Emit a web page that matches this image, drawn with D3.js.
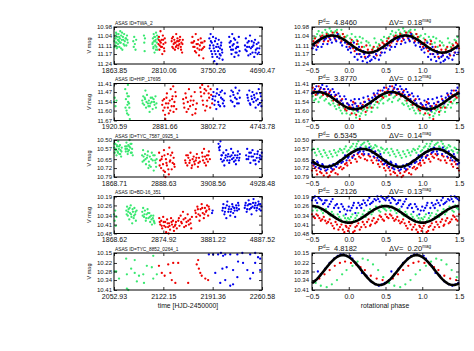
<!DOCTYPE html>
<html>
<head>
<meta charset="utf-8">
<script src="https://cdn.jsdelivr.net/npm/d3@7"></script>
<style>
  body { margin: 0; background: #fff; }
  svg text { font-family: "Liberation Sans", Arial, sans-serif; fill: #111; }
</style>
</head>
<body>
<svg id="chart" width="474" height="351"></svg>
<script>
// star ids, tick labels and fit results
const starIds = ["TWA_2", "HIP_17695", "TYC_7587_0925_1", "BD-16_351", "TYC_8852_0264_1"];
const timeTicks = [
  [1863.85, 2810.06, 3750.26, 4690.47],
  [1920.59, 2881.66, 3802.72, 4743.78],
  [1868.71, 2888.63, 3908.56, 4928.48],
  [1868.62, 2874.92, 3881.22, 4887.52],
  [2052.93, 2122.15, 2191.36, 2260.58]
];
const magTicks = [
  [10.98, 11.04, 11.11, 11.17, 11.24],
  [11.41, 11.47, 11.54, 11.60, 11.67],
  [10.50, 10.57, 10.65, 10.72, 10.79],
  [10.19, 10.26, 10.34, 10.41, 10.48],
  [10.15, 10.22, 10.28, 10.34, 10.41]
];
const periods = ["4.8460", "3.8770", "6.5345", "3.2126", "4.8182"];
const deltaV = ["0.18", "0.12", "0.14", "0.13", "0.20"];
// sine fit: mean mag, semi-amplitude, phase of maximum brightness
const fitMean = [11.10, 11.53, 10.64, 10.33, 10.27];
const fitAmp = [0.06, 0.06, 0.07, 0.065, 0.105];
const fitPhaseMax = [0.77, 0.58, 0.19, 0.5, 0.92];

// ---- TWA_2 ----
const twaTimeG = [[1872,11.08],[1880,11.04],[1889,11.11],[1895,11.06],[1903,11.02],[1910,11.09],[1918,11.13],[1925,11.05],[1934,11.07],[1941,11.10],[1950,11.03],[1958,11.08],[1966,11.12],[1975,11.06],[1984,11.01],[1993,11.09],[2001,11.04],[2012,11.07],[2023,11.14],[2035,11.05],[2046,11.10],[2058,11.03],[2070,11.08],[2085,11.06],[2099,11.11],[2112,11.04],[2126,11.09],
  [1876,11.12],[1885,11.06],[1899,11.09],[1914,11.03],[1929,11.12],[1946,11.07],[1962,11.05],[1980,11.09],[1997,11.13],[2018,11.02],[2040,11.07],[2064,11.11],[2092,11.06],[2119,11.07],
  [2232,11.08],[2241,11.12],[2250,11.05],[2262,11.10],[2275,11.14],[2287,11.07],[2436,11.04],[2442,11.09],[2449,11.15],[2455,11.06],
  [2598,11.10],[2607,11.06],[2615,11.13],[2622,11.03],[2630,11.08],[2638,11.16],[2645,11.05],[2652,11.11],[2660,11.07],[2667,11.02],[2674,11.12],[2682,11.09],[2690,11.14],[2698,11.06],
  [2604,11.09],[2619,11.12],[2634,11.05],[2649,11.08],[2664,11.14],[2686,11.04]];
const twaTimeR = [[2712,11.10],[2722,11.05],[2731,11.14],[2741,11.08],[2752,11.01],[2763,11.12],[2774,11.07],[2786,11.17],[2797,11.04],[2808,11.10],[2820,11.13],[2833,11.06],[2846,11.09],
  [2717,11.07],[2736,11.11],[2758,11.09],[2780,11.12],[2802,11.07],[2826,11.15],
  [2965,11.08],[2978,11.12],[2990,11.05],[3003,11.10],[3015,11.07],[3028,11.14],[3040,11.09],[3052,11.03],[3064,11.11],[3076,11.06],[3089,11.13],[3101,11.08],[3114,11.10],[3126,11.05],[3139,11.12],[3152,11.09],[3165,11.16],[3178,11.07],
  [2971,11.06],[2996,11.13],[3021,11.09],[3046,11.12],[3070,11.08],[3095,11.11],[3120,11.07],[3145,11.14],[3171,11.10],
  [3345,11.09],[3362,11.05],[3378,11.12],[3394,11.08],[3410,11.15],[3425,11.03],[3441,11.10],[3457,11.13],[3472,11.07],[3488,11.18],[3504,11.11],[3520,11.06],[3537,11.14],[3553,11.09],[3570,11.20],[3586,11.12],
  [3370,11.09],[3402,11.12],[3433,11.16],[3465,11.10],[3496,11.14],[3528,11.09],[3561,11.13],[3594,11.08]];
const twaTimeB = [[3685,11.06],[3697,11.11],[3709,11.03],[3720,11.15],[3732,11.09],[3744,11.19],[3756,11.05],[3768,11.13],[3780,11.22],[3792,11.08],[3804,11.17],[3816,11.12],[3828,11.24],[3840,11.10],[3852,11.15],[3864,11.07],[3876,11.20],[3888,11.13],[3900,11.18],[3912,11.09],[3925,11.14],[3938,11.21],
  [3691,11.13],[3714,11.08],[3738,11.17],[3762,11.11],[3786,11.15],[3810,11.06],[3834,11.19],[3858,11.12],[3882,11.17],[3906,11.11],[3931,11.16],
  [4065,11.05],[4080,11.12],[4094,11.08],[4108,11.17],[4122,11.03],[4136,11.14],[4150,11.10],[4164,11.19],[4178,11.07],[4192,11.13],[4206,11.16],[4220,11.09],[4234,11.12],[4248,11.05],[4262,11.15],
  [4072,11.09],[4101,11.14],[4129,11.11],[4157,11.06],[4185,11.16],[4213,11.12],[4241,11.18],
  [4365,11.11],[4382,11.06],[4398,11.15],[4414,11.09],[4430,11.18],[4446,11.12],[4462,11.04],[4478,11.13],[4494,11.08],[4510,11.16],[4526,11.11],[4542,11.19],[4558,11.07],[4574,11.14],[4590,11.10],[4606,11.17],[4622,11.09],[4638,11.13],
  [4374,11.14],[4406,11.12],[4438,11.08],[4470,11.17],[4502,11.12],[4534,11.09],[4566,11.16],[4598,11.13],[4630,11.16]];
const twaPhaseG = [[0.02,11.06],[0.06,11.08],[0.09,11.05],[0.13,11.10],[0.17,11.09],[0.21,11.12],[0.24,11.08],[0.29,11.11],[0.33,11.13],[0.37,11.09],[0.41,11.10],[0.44,11.07],[0.48,11.05],[0.52,11.06],[0.57,11.03],[0.61,11.04],[0.64,11.02],[0.68,11.00],[0.72,11.03],[0.76,11.01],[0.8,11.02],[0.84,11.00],[0.88,11.04],[0.92,11.03],[0.96,11.05],
  [0.04,11.03],[0.11,11.07],[0.15,11.05],[0.19,11.06],[0.27,11.09],[0.35,11.06],[0.39,11.12],[0.46,11.08],[0.55,11.05],[0.59,11.01],[0.66,11.04],[0.7,11.02],[0.74,10.99],[0.78,11.04],[0.82,11.01],[0.86,11.03],[0.9,11.00],[0.94,11.06],[0.98,11.04]];
const twaPhaseR = [[0.01,11.12],[0.04,11.07],[0.08,11.15],[0.11,11.10],[0.14,11.17],[0.18,11.12],[0.22,11.19],[0.26,11.14],[0.3,11.16],[0.34,11.12],[0.38,11.18],[0.42,11.11],[0.46,11.09],[0.5,11.13],[0.54,11.06],[0.58,11.09],[0.62,11.05],[0.66,11.08],[0.7,11.03],[0.74,11.06],[0.78,11.02],[0.82,11.07],[0.86,11.04],[0.9,11.08],[0.94,11.05],[0.98,11.10],
  [0.03,11.09],[0.06,11.13],[0.12,11.08],[0.16,11.14],[0.2,11.16],[0.24,11.11],[0.28,11.18],[0.32,11.14],[0.36,11.15],[0.4,11.13],[0.44,11.16],[0.48,11.10],[0.52,11.08],[0.56,11.11],[0.6,11.07],[0.64,11.04],[0.68,11.06],[0.72,11.08],[0.76,11.04],[0.8,11.05],[0.84,11.02],[0.88,11.06],[0.92,11.03],[0.96,11.08]];
const twaPhaseB = [[0.0,11.10],[0.03,11.16],[0.05,11.12],[0.08,11.19],[0.1,11.14],[0.12,11.21],[0.15,11.17],[0.19,11.22],[0.2,11.15],[0.23,11.20],[0.25,11.23],[0.28,11.18],[0.31,11.21],[0.33,11.16],[0.36,11.20],[0.39,11.15],[0.43,11.18],[0.47,11.13],[0.49,11.16],[0.53,11.11],[0.56,11.14],[0.6,11.08],[0.63,11.12],[0.67,11.07],[0.71,11.10],[0.73,11.05],[0.77,11.09],[0.79,11.04],[0.83,11.08],[0.87,11.06],[0.91,11.11],[0.93,11.07],[0.97,11.12],
  [0.02,11.13],[0.07,11.09],[0.11,11.17],[0.14,11.12],[0.17,11.19],[0.21,11.17],[0.26,11.19],[0.29,11.22],[0.34,11.19],[0.37,11.17],[0.41,11.21],[0.45,11.16],[0.51,11.13],[0.55,11.09],[0.58,11.12],[0.62,11.06],[0.65,11.10],[0.69,11.06],[0.75,11.07],[0.81,11.06],[0.85,11.03],[0.89,11.09],[0.95,11.09],[0.99,11.14]];

// ---- HIP_17695 ----
const hipTimeG = [[1922,11.54],[1935,11.51],[1950,11.57],[1968,11.53],
  [2135,11.45],[2148,11.52],[2160,11.60],[2168,11.48],[2177,11.56],[2186,11.42],[2195,11.63],[2204,11.50],[2213,11.58],[2222,11.66],[2190,11.54],[2170,11.62],[2140,11.58],[2182,11.50],[2208,11.55],
  [2460,11.53],[2478,11.50],[2496,11.56],[2514,11.52],[2532,11.58],[2550,11.49],[2568,11.55],[2586,11.53],[2604,11.57],[2622,11.51],[2640,11.54],[2658,11.59],[2676,11.52],[2694,11.56],[2712,11.50],[2730,11.55],[2520,11.46],[2600,11.61],
  [2469,11.55],[2505,11.51],[2541,11.54],[2577,11.57],[2613,11.55],[2649,11.51],[2685,11.54],[2721,11.58]];
const hipTimeR = [[2840,11.56],[2858,11.60],[2876,11.52],[2894,11.63],[2912,11.55],[2930,11.48],[2948,11.58],[2966,11.62],[2984,11.53],[3002,11.45],[3020,11.57],[3038,11.50],[3056,11.61],[3074,11.54],[3092,11.47],[3110,11.59],[2900,11.66],[3050,11.43],
  [2849,11.53],[2885,11.58],[2921,11.51],[2957,11.55],[2993,11.60],[3029,11.52],[3065,11.57],[3101,11.50],
  [3240,11.52],[3262,11.58],[3284,11.48],[3306,11.61],[3328,11.54],[3350,11.45],[3372,11.57],[3394,11.50],[3416,11.63],[3438,11.53],[3460,11.47],[3482,11.59],[3500,11.55],
  [3251,11.55],[3295,11.51],[3339,11.59],[3383,11.53],[3427,11.56],[3471,11.62],
  [3565,11.44],[3584,11.50],[3603,11.42],[3622,11.56],[3641,11.48],[3660,11.60],[3679,11.46],[3698,11.53],[3717,11.43],[3736,11.51],[3755,11.58],[3774,11.49],[3793,11.55],
  [3575,11.47],[3612,11.53],[3650,11.45],[3688,11.57],[3726,11.48],[3764,11.45]];
const hipTimeB = [[3800,11.52],[3818,11.47],[3836,11.56],[3854,11.50],[3872,11.59],[3890,11.45],[3908,11.54],[3926,11.49],[3944,11.57],[3962,11.51],[3980,11.46],[3998,11.55],[4016,11.53],[4034,11.48],
  [3809,11.50],[3845,11.53],[3881,11.48],[3917,11.56],[3953,11.47],[3989,11.52],[4025,11.57],
  [4140,11.50],[4160,11.46],[4180,11.54],[4200,11.49],[4220,11.57],[4240,11.44],[4260,11.52],[4280,11.48],[4300,11.55],[4320,11.51],
  [4150,11.53],[4190,11.47],[4230,11.51],[4270,11.55],[4310,11.46],
  [4462,11.49],[4482,11.53],[4502,11.46],[4522,11.56],[4542,11.50],[4562,11.47],[4582,11.54],[4602,11.51],[4622,11.58],[4642,11.48],[4662,11.52],[4682,11.45],[4702,11.55],[4722,11.50],[4740,11.53],
  [4472,11.51],[4512,11.55],[4552,11.52],[4592,11.49],[4632,11.53],[4672,11.56],[4712,11.48],[4732,11.57]];
const hipPhaseG = [[0.02,11.63],[0.06,11.60],[0.1,11.65],[0.13,11.61],[0.17,11.62],[0.21,11.59],[0.25,11.60],[0.29,11.57],[0.33,11.58],[0.37,11.54],[0.41,11.55],[0.45,11.52],[0.49,11.50],[0.53,11.53],[0.57,11.49],[0.61,11.51],[0.65,11.48],[0.69,11.52],[0.73,11.55],[0.77,11.53],[0.81,11.57],[0.85,11.56],[0.89,11.60],[0.93,11.58],[0.97,11.62],
  [0.04,11.59],[0.08,11.62],[0.12,11.58],[0.15,11.64],[0.19,11.60],[0.23,11.63],[0.27,11.58],[0.31,11.61],[0.35,11.56],[0.39,11.58],[0.43,11.53],[0.47,11.55],[0.51,11.50],[0.55,11.52],[0.59,11.54],[0.63,11.50],[0.67,11.53],[0.71,11.50],[0.75,11.56],[0.79,11.55],[0.83,11.59],[0.87,11.58],[0.91,11.62],[0.95,11.60],[0.99,11.59]];
const hipPhaseR = [[0.01,11.57],[0.04,11.62],[0.08,11.55],[0.11,11.60],[0.15,11.66],[0.19,11.56],[0.23,11.61],[0.27,11.52],[0.31,11.58],[0.35,11.49],[0.39,11.54],[0.43,11.46],[0.47,11.51],[0.51,11.44],[0.55,11.49],[0.59,11.43],[0.63,11.47],[0.67,11.45],[0.71,11.50],[0.75,11.46],[0.79,11.53],[0.83,11.49],[0.87,11.56],[0.91,11.52],[0.95,11.59],[0.98,11.55],
  [0.03,11.58],[0.06,11.54],[0.1,11.63],[0.13,11.57],[0.17,11.59],[0.21,11.54],[0.25,11.58],[0.29,11.55],[0.33,11.53],[0.37,11.51],[0.41,11.49],[0.45,11.50],[0.49,11.47],[0.53,11.46],[0.57,11.48],[0.61,11.45],[0.65,11.49],[0.69,11.47],[0.73,11.48],[0.77,11.51],[0.81,11.50],[0.85,11.54],[0.89,11.53],[0.93,11.57],[0.97,11.60]];
const hipPhaseB = [[0.0,11.56],[0.03,11.53],[0.06,11.58],[0.09,11.55],[0.12,11.60],[0.14,11.52],[0.18,11.57],[0.22,11.54],[0.26,11.50],[0.3,11.55],[0.34,11.48],[0.37,11.52],[0.4,11.46],[0.44,11.49],[0.48,11.44],[0.52,11.47],[0.56,11.43],[0.6,11.46],[0.64,11.42],[0.68,11.47],[0.72,11.45],[0.76,11.49],[0.8,11.47],[0.84,11.52],[0.88,11.50],[0.92,11.55],[0.96,11.52],
  [0.01,11.59],[0.05,11.56],[0.08,11.52],[0.11,11.57],[0.16,11.55],[0.2,11.51],[0.24,11.56],[0.28,11.53],[0.32,11.51],[0.36,11.50],[0.39,11.48],[0.42,11.50],[0.46,11.46],[0.5,11.48],[0.54,11.45],[0.58,11.48],[0.62,11.44],[0.66,11.45],[0.7,11.43],[0.74,11.47],[0.78,11.45],[0.82,11.49],[0.86,11.48],[0.9,11.53],[0.94,11.50],[0.98,11.55]];

// ---- TYC_7587_0925_1 ----
const tycaTimeG = [[1872,10.56],[1884,10.60],[1896,10.53],[1908,10.58],[1920,10.62],[1932,10.55],[1944,10.59],[1956,10.51],[1968,10.57],[1980,10.61],[1992,10.54],[2004,10.58],[2016,10.63],[2028,10.56],
  [1878,10.53],[1902,10.57],[1926,10.54],[1950,10.60],[1974,10.55],[1998,10.61],[2022,10.59],
  [2100,10.55],[2113,10.59],[2126,10.52],[2139,10.57],[2152,10.61],[2165,10.54],[2178,10.58],[2191,10.50],[2204,10.56],[2217,10.60],[2230,10.53],[2243,10.57],[2256,10.62],
  [2106,10.57],[2132,10.55],[2158,10.59],[2184,10.55],[2210,10.53],[2236,10.60],
  [2450,10.62],[2470,10.58],[2490,10.66],[2510,10.61],[2530,10.69],[2550,10.64],[2570,10.59],[2590,10.67],[2610,10.63],[2630,10.71],[2650,10.60],[2670,10.66],[2690,10.74],[2710,10.62],[2730,10.68],[2750,10.65],[2580,10.72],[2460,10.67],
  [2480,10.63],[2520,10.65],[2560,10.62],[2600,10.70],[2640,10.65],[2680,10.62],[2720,10.66],[2740,10.71]];
const tycaTimeR = [[2802,10.60],[2822,10.66],[2842,10.72],[2862,10.63],[2882,10.69],[2902,10.58],[2922,10.75],[2942,10.65],[2962,10.70],[2982,10.61],[3002,10.77],[3022,10.67],[3042,10.62],[3062,10.73],[3082,10.68],[3102,10.64],[3122,10.71],[2932,10.79],[3012,10.56],
  [2812,10.70],[2852,10.65],[2892,10.74],[2912,10.62],[2952,10.68],[2992,10.73],[3032,10.66],[3072,10.60],[3112,10.69],
  [3340,10.66],[3362,10.62],[3384,10.70],[3406,10.64],[3428,10.68],[3450,10.60],[3472,10.72],[3494,10.65],[3516,10.63],[3538,10.69],[3560,10.66],[3582,10.61],[3604,10.71],[3626,10.64],[3644,10.67],
  [3351,10.68],[3395,10.62],[3439,10.66],[3483,10.70],[3527,10.67],[3571,10.64],[3615,10.68],
  [3690,10.60],[3710,10.66],[3730,10.57],[3750,10.63],[3770,10.70],[3790,10.62],[3810,10.67],[3830,10.59],[3850,10.65],
  [3700,10.63],[3740,10.68],[3780,10.65],[3820,10.62]];
const tycaTimeB = [[4030,10.53],[4050,10.58],[4070,10.51],[4090,10.62],[4110,10.67],[4130,10.60],[4150,10.70],[4170,10.64],[4190,10.58],[4210,10.66],[4230,10.61],[4250,10.68],[4270,10.63],[4290,10.57],[4310,10.65],[4330,10.60],[4350,10.67],[4370,10.62],[4390,10.69],[4410,10.64],[4430,10.59],[4450,10.66],[4470,10.61],
  [4040,10.56],[4060,10.55],[4080,10.65],[4100,10.62],[4140,10.66],[4180,10.62],[4220,10.63],[4260,10.66],[4300,10.62],[4340,10.64],[4380,10.66],[4420,10.62],[4460,10.64],
  [4600,10.62],[4622,10.57],[4644,10.65],[4666,10.60],[4688,10.68],[4710,10.63],[4732,10.58],[4754,10.66],[4776,10.61],[4798,10.69],[4820,10.64],[4842,10.59],[4864,10.67],[4886,10.62],[4908,10.65],[4925,10.60],
  [4611,10.65],[4655,10.63],[4699,10.60],[4743,10.63],[4787,10.66],[4831,10.61],[4875,10.64],[4917,10.63]];
const tycaPhaseG = [[0.02,10.56],[0.06,10.53],[0.1,10.55],[0.13,10.51],[0.17,10.54],[0.21,10.52],[0.24,10.56],[0.28,10.53],[0.32,10.57],[0.36,10.54],[0.4,10.58],[0.44,10.56],[0.48,10.60],[0.52,10.57],[0.56,10.62],[0.6,10.59],[0.64,10.63],[0.68,10.60],[0.72,10.64],[0.76,10.61],[0.8,10.58],[0.84,10.62],[0.88,10.57],[0.92,10.60],[0.96,10.55],
  [0.0,10.58],[0.04,10.55],[0.08,10.57],[0.11,10.53],[0.15,10.56],[0.19,10.53],[0.23,10.55],[0.26,10.51],[0.3,10.55],[0.34,10.56],[0.38,10.55],[0.42,10.59],[0.46,10.57],[0.5,10.58],[0.54,10.60],[0.58,10.57],[0.62,10.61],[0.66,10.58],[0.7,10.62],[0.74,10.59],[0.78,10.63],[0.82,10.60],[0.86,10.59],[0.9,10.58],[0.94,10.57],[0.98,10.59]];
const tycaPhaseR = [[0.01,10.66],[0.05,10.63],[0.09,10.65],[0.12,10.61],[0.16,10.64],[0.2,10.62],[0.25,10.66],[0.29,10.63],[0.33,10.68],[0.38,10.66],[0.42,10.71],[0.46,10.69],[0.5,10.74],[0.54,10.72],[0.57,10.77],[0.61,10.75],[0.66,10.78],[0.7,10.76],[0.74,10.78],[0.78,10.74],[0.82,10.76],[0.87,10.72],[0.91,10.73],[0.95,10.69],[0.98,10.70],
  [0.03,10.68],[0.07,10.62],[0.11,10.67],[0.14,10.63],[0.18,10.61],[0.22,10.65],[0.27,10.62],[0.31,10.66],[0.35,10.64],[0.4,10.69],[0.44,10.67],[0.48,10.72],[0.52,10.70],[0.56,10.74],[0.59,10.72],[0.63,10.76],[0.68,10.74],[0.72,10.79],[0.76,10.75],[0.8,10.73],[0.85,10.77],[0.89,10.71],[0.93,10.72],[0.97,10.68]];
const tycaPhaseB = [[0.0,10.63],[0.03,10.60],[0.07,10.62],[0.1,10.58],[0.13,10.60],[0.16,10.56],[0.2,10.59],[0.23,10.57],[0.27,10.61],[0.3,10.58],[0.34,10.63],[0.37,10.61],[0.41,10.66],[0.44,10.63],[0.48,10.69],[0.51,10.66],[0.55,10.71],[0.58,10.68],[0.62,10.73],[0.65,10.70],[0.69,10.74],[0.72,10.71],[0.76,10.72],[0.79,10.69],[0.83,10.71],[0.86,10.67],[0.9,10.68],[0.93,10.64],[0.97,10.66],
  [0.02,10.61],[0.05,10.64],[0.08,10.59],[0.12,10.57],[0.15,10.59],[0.18,10.57],[0.21,10.61],[0.25,10.58],[0.28,10.56],[0.32,10.60],[0.36,10.59],[0.39,10.64],[0.43,10.61],[0.46,10.66],[0.5,10.68],[0.53,10.69],[0.57,10.67],[0.6,10.72],[0.64,10.69],[0.67,10.72],[0.71,10.73],[0.74,10.70],[0.78,10.73],[0.81,10.70],[0.85,10.69],[0.88,10.66],[0.92,10.67],[0.95,10.62],[0.99,10.64]];

// ---- BD-16_351 ----
const bdTimeG = [[1870,10.33],[1882,10.38],[1894,10.30],[1906,10.42],[1918,10.35],
  [2120,10.30],[2135,10.27],[2150,10.34],[2165,10.29],[2180,10.37],[2195,10.32],[2210,10.26],[2225,10.35],[2240,10.40],[2255,10.31],[2270,10.36],[2285,10.28],[2300,10.33],[2315,10.38],[2330,10.30],
  [2128,10.33],[2158,10.31],[2188,10.28],[2218,10.33],[2248,10.29],[2278,10.34],[2308,10.31],
  [2445,10.31],[2463,10.28],[2481,10.35],[2499,10.30],[2517,10.38],[2535,10.33],[2553,10.29],[2571,10.36],[2589,10.32],[2607,10.39],[2625,10.34],[2643,10.41],[2661,10.36],[2679,10.38],[2697,10.40],
  [2454,10.34],[2490,10.33],[2526,10.36],[2562,10.32],[2598,10.35],[2634,10.37],[2670,10.34],[2688,10.39]];
const bdTimeR = [[2792,10.36],[2812,10.41],[2832,10.38],[2852,10.44],[2872,10.35],[2892,10.42],[2912,10.39],[2932,10.47],[2952,10.37],[2972,10.43],[2992,10.40],[3012,10.45],[3032,10.36],[3052,10.41],[3072,10.38],[3092,10.46],[3112,10.42],[3132,10.39],[3150,10.44],[2982,10.48],
  [2802,10.39],[2842,10.42],[2882,10.39],[2922,10.43],[2962,10.40],[3002,10.42],[3042,10.39],[3082,10.43],[3122,10.41],
  [3180,10.38],[3204,10.42],[3228,10.34],[3252,10.40],[3276,10.31],[3300,10.43],[3324,10.36],[3348,10.39],[3372,10.33],[3396,10.41],[3420,10.37],[3444,10.44],[3458,10.35],
  [3192,10.36],[3240,10.39],[3288,10.37],[3336,10.42],[3384,10.38],[3432,10.40],
  [3525,10.30],[3547,10.35],[3569,10.27],[3591,10.33],[3613,10.38],[3635,10.29],[3657,10.25],[3679,10.32],[3701,10.36],[3723,10.28],[3745,10.31],[3767,10.26],[3789,10.34],[3811,10.29],
  [3536,10.32],[3580,10.29],[3624,10.34],[3668,10.28],[3712,10.33],[3756,10.30],[3800,10.27]];
const bdTimeB = [[3868,10.32],[3880,10.30],
  [4080,10.30],[4100,10.25],[4120,10.33],[4140,10.28],[4160,10.36],[4180,10.23],[4200,10.31],[4220,10.27],[4240,10.34],[4260,10.29],[4280,10.25],[4300,10.32],[4320,10.28],[4340,10.35],[4360,10.26],[4380,10.30],[4400,10.24],[4418,10.29],
  [4090,10.28],[4130,10.31],[4170,10.26],[4210,10.29],[4250,10.31],[4290,10.27],[4330,10.30],[4370,10.28],[4410,10.26],
  [4535,10.28],[4555,10.24],[4575,10.31],[4595,10.26],[4615,10.22],[4635,10.29],[4655,10.25],[4675,10.33],[4695,10.27],[4715,10.21],[4735,10.28],[4755,10.24],[4775,10.30],[4795,10.26],[4815,10.23],[4835,10.29],[4855,10.25],[4875,10.27],
  [4545,10.26],[4585,10.29],[4625,10.25],[4665,10.28],[4705,10.24],[4745,10.26],[4785,10.28],[4825,10.25],[4865,10.30]];
const bdPhaseG = [[0.01,10.37],[0.05,10.33],[0.09,10.36],[0.13,10.32],[0.17,10.35],[0.21,10.30],[0.25,10.33],[0.29,10.29],[0.33,10.31],[0.37,10.27],[0.41,10.30],[0.45,10.26],[0.49,10.29],[0.53,10.27],[0.57,10.30],[0.61,10.28],[0.65,10.32],[0.69,10.29],[0.73,10.33],[0.77,10.31],[0.81,10.35],[0.85,10.33],[0.89,10.37],[0.93,10.34],[0.97,10.38],
  [0.03,10.35],[0.07,10.38],[0.11,10.34],[0.15,10.37],[0.19,10.33],[0.23,10.35],[0.27,10.31],[0.31,10.33],[0.35,10.29],[0.39,10.28],[0.43,10.31],[0.47,10.28],[0.51,10.30],[0.55,10.28],[0.59,10.27],[0.63,10.30],[0.67,10.30],[0.71,10.31],[0.75,10.34],[0.79,10.33],[0.83,10.36],[0.87,10.35],[0.91,10.39],[0.95,10.36],[0.99,10.36]];
const bdPhaseR = [[0.0,10.44],[0.04,10.40],[0.08,10.46],[0.11,10.42],[0.15,10.45],[0.19,10.39],[0.23,10.43],[0.27,10.37],[0.3,10.41],[0.34,10.36],[0.38,10.39],[0.42,10.34],[0.46,10.37],[0.5,10.33],[0.54,10.36],[0.58,10.34],[0.62,10.38],[0.66,10.35],[0.7,10.40],[0.74,10.37],[0.78,10.42],[0.82,10.39],[0.86,10.45],[0.9,10.41],[0.94,10.47],[0.97,10.43],
  [0.02,10.42],[0.06,10.47],[0.09,10.43],[0.13,10.40],[0.17,10.43],[0.21,10.41],[0.25,10.39],[0.29,10.42],[0.32,10.38],[0.36,10.40],[0.4,10.37],[0.44,10.35],[0.48,10.38],[0.52,10.35],[0.56,10.33],[0.6,10.36],[0.64,10.37],[0.68,10.38],[0.72,10.39],[0.76,10.40],[0.8,10.44],[0.84,10.41],[0.88,10.43],[0.92,10.45],[0.96,10.42],[0.99,10.46]];
const bdPhaseB = [[0.02,10.30],[0.06,10.26],[0.09,10.32],[0.13,10.24],[0.17,10.28],[0.2,10.22],[0.24,10.26],[0.28,10.20],[0.31,10.24],[0.35,10.21],[0.39,10.19],[0.42,10.23],[0.46,10.20],[0.5,10.22],[0.54,10.19],[0.57,10.24],[0.61,10.21],[0.65,10.25],[0.68,10.22],[0.72,10.27],[0.76,10.23],[0.8,10.28],[0.84,10.25],[0.88,10.31],[0.92,10.27],[0.96,10.33],
  [0.0,10.27],[0.04,10.28],[0.07,10.24],[0.11,10.28],[0.15,10.26],[0.18,10.25],[0.22,10.24],[0.26,10.22],[0.29,10.25],[0.33,10.23],[0.37,10.22],[0.4,10.21],[0.44,10.19],[0.48,10.21],[0.52,10.20],[0.55,10.22],[0.59,10.20],[0.63,10.22],[0.67,10.24],[0.7,10.22],[0.74,10.25],[0.78,10.21],[0.82,10.26],[0.86,10.28],[0.9,10.25],[0.94,10.29],[0.98,10.30]];

// ---- TYC_8852_0264_1 ----
const tycbTimeG = [[2054,10.28],[2056,10.28],[2060,10.33],[2070,10.19],[2071,10.30],[2071,10.40],[2073,10.41],[2077,10.26],[2082,10.20],[2082,10.29],[2085,10.35],[2088,10.31],[2094,10.30],[2095,10.36],[2099,10.24],[2106,10.25],[2108,10.17],[2108,10.33],[2113,10.30]];
const tycbTimeR = [[2116,10.24],[2120,10.29],[2124,10.31],[2129,10.23],[2132,10.29],[2134,10.34],[2136,10.22],[2139,10.36],[2143,10.22],[2157,10.36],[2169,10.23],[2171,10.20],[2172,10.26],[2174,10.29],[2176,10.31],[2181,10.33],[2185,10.34]];
const tycbTimeB = [[2186,10.16],[2192,10.16],[2195,10.29],[2199,10.16],[2202,10.36],[2203,10.15],[2205,10.26],[2206,10.17],[2209,10.34],[2209,10.16],[2211,10.25],[2216,10.16],[2216,10.38],[2220,10.27],[2220,10.37],[2226,10.16],[2226,10.32],[2227,10.21],[2233,10.15],[2234,10.22],[2240,10.27],[2244,10.16],[2244,10.33],[2248,10.29],[2251,10.15],[2251,10.22],[2255,10.18],[2258,10.19],[2258,10.27]];
const tycbPhaseG = [[0.05,10.24],[0.12,10.21],[0.19,10.19],[0.26,10.20],[0.33,10.23],[0.4,10.27],[0.47,10.32],[0.55,10.36],[0.62,10.38],[0.7,10.39],[0.77,10.37],[0.84,10.34],[0.91,10.30],[0.97,10.27]];
const tycbPhaseR = [[0.03,10.22],[0.1,10.23],[0.16,10.25],[0.22,10.27],[0.3,10.31],[0.38,10.33],[0.46,10.34],[0.53,10.35],[0.6,10.33],[0.67,10.30],[0.74,10.27],[0.81,10.24],[0.88,10.22],[0.95,10.21]];
const tycbPhaseB = [[0.02,10.17],[0.05,10.19],[0.09,10.22],[0.13,10.24],[0.18,10.29],[0.24,10.31],[0.3,10.35],[0.36,10.37],[0.41,10.38],[0.45,10.37],[0.49,10.36],[0.55,10.34],[0.58,10.28],[0.62,10.30],[0.68,10.26],[0.74,10.22],[0.8,10.19],[0.85,10.17],[0.89,10.16],[0.93,10.16],[0.97,10.17]];

const timeData = [
  [twaTimeG, twaTimeR, twaTimeB],
  [hipTimeG, hipTimeR, hipTimeB],
  [tycaTimeG, tycaTimeR, tycaTimeB],
  [bdTimeG, bdTimeR, bdTimeB],
  [tycbTimeG, tycbTimeR, tycbTimeB]
];
const phaseData = [
  [twaPhaseG, twaPhaseR, twaPhaseB],
  [hipPhaseG, hipPhaseR, hipPhaseB],
  [tycaPhaseG, tycaPhaseR, tycaPhaseB],
  [bdPhaseG, bdPhaseR, bdPhaseB],
  [tycbPhaseG, tycbPhaseR, tycbPhaseB]
];
const colors = ["#38e870", "#ee0000", "#0000ee"];

const svg = d3.select("#chart");
const leftRange = [114, 262];
const rightRange = [312, 459];
const firstTop = 27, step = 56.5, boxH = 37;
const fmt2 = d3.format(".2f");
const dotR = 1.15;

function styleAxis(g, size) {
  g.select(".domain").remove();
  g.attr("font-size", size).attr("font-family", null);
  g.selectAll("line").attr("stroke", "#000").attr("stroke-width", 0.8);
}

starIds.forEach((id, i) => {
  const y0 = firstTop + i * step, y1 = y0 + boxH;
  const mt = magTicks[i];
  const y = d3.scaleLinear().domain([mt[0], mt[mt.length - 1]]).range([y0, y1]);
  const xt = d3.scaleLinear().domain([timeTicks[i][0], timeTicks[i][3]]).range(leftRange);
  const xp = d3.scaleLinear().domain([-0.5, 1.5]).range(rightRange);

  // ---------- left: light curve vs time ----------
  const gl = svg.append("g");
  timeData[i].forEach((pts, c) => {
    gl.append("g").selectAll("circle").data(pts).join("circle")
      .attr("cx", d => xt(d[0]))
      .attr("cy", d => y(d[1]))
      .attr("r", dotR)
      .attr("fill", colors[c]);
  });

  gl.append("rect").attr("x", leftRange[0]).attr("y", y0)
    .attr("width", leftRange[1] - leftRange[0]).attr("height", boxH)
    .attr("fill", "none").attr("stroke", "#000").attr("stroke-width", 1);

  gl.append("g").attr("transform", `translate(0,${y1})`)
    .call(d3.axisBottom(xt).tickValues(timeTicks[i]).tickSize(-3).tickPadding(4).tickFormat(fmt2))
    .call(g => styleAxis(g, 7));
  gl.append("g").attr("transform", `translate(0,${y0})`)
    .call(d3.axisTop(xt).tickValues(timeTicks[i]).tickSize(-3).tickFormat(""))
    .call(g => styleAxis(g, 7));
  gl.append("g").attr("transform", `translate(${leftRange[0]},0)`)
    .call(d3.axisLeft(y).tickValues(mt).tickSize(-3).tickPadding(2).tickFormat(fmt2))
    .call(g => styleAxis(g, 6));
  gl.append("g").attr("transform", `translate(${leftRange[1]},0)`)
    .call(d3.axisRight(y).tickValues(mt).tickSize(-3).tickFormat(""))
    .call(g => styleAxis(g, 6));

  gl.append("text").attr("x", leftRange[0] + 1).attr("y", y0 - 2.5)
    .attr("font-size", 4.8).text("ASAS ID=" + id);

  gl.append("text")
    .attr("transform", `translate(91,${(y0 + y1) / 2}) rotate(-90)`)
    .attr("text-anchor", "middle").attr("font-size", 5.5).text("V mag");

  // ---------- right: folded light curve ----------
  const gr = svg.append("g");
  phaseData[i].forEach((pts, c) => {
    const folded = [];
    pts.forEach(d => {
      [-1, 0, 1].forEach(k => {
        const ph = d[0] + k;
        if (ph >= -0.5 && ph <= 1.5) folded.push([ph, d[1]]);
      });
    });
    gr.append("g").selectAll("circle").data(folded).join("circle")
      .attr("cx", d => xp(d[0]))
      .attr("cy", d => y(d[1]))
      .attr("r", dotR)
      .attr("fill", colors[c]);
  });

  // sine fit
  const fitPts = d3.range(-0.5, 1.5001, 0.01).map(ph =>
    [ph, fitMean[i] - fitAmp[i] * Math.cos(2 * Math.PI * (ph - fitPhaseMax[i]))]);
  gr.append("path").datum(fitPts)
    .attr("fill", "none").attr("stroke", "#000").attr("stroke-width", 2.6)
    .attr("d", d3.line().x(d => xp(d[0])).y(d => y(d[1])));

  gr.append("rect").attr("x", rightRange[0]).attr("y", y0)
    .attr("width", rightRange[1] - rightRange[0]).attr("height", boxH)
    .attr("fill", "none").attr("stroke", "#000").attr("stroke-width", 1);

  const phTicks = [-0.5, 0, 0.5, 1, 1.5];
  gr.append("g").attr("transform", `translate(0,${y1})`)
    .call(d3.axisBottom(xp).tickValues(phTicks).tickSize(-3).tickPadding(4).tickFormat(d3.format(".1f")))
    .call(g => styleAxis(g, 7));
  gr.append("g").attr("transform", `translate(0,${y0})`)
    .call(d3.axisTop(xp).tickValues(phTicks).tickSize(-3).tickFormat(""))
    .call(g => styleAxis(g, 7));
  gr.append("g").attr("transform", `translate(${rightRange[0]},0)`)
    .call(d3.axisLeft(y).tickValues(mt).tickSize(-3).tickPadding(3).tickFormat(fmt2))
    .call(g => styleAxis(g, 6));
  gr.append("g").attr("transform", `translate(${rightRange[1]},0)`)
    .call(d3.axisRight(y).tickValues(mt).tickSize(-3).tickFormat(""))
    .call(g => styleAxis(g, 6));

  const hp = gr.append("text").attr("x", 318).attr("y", y0 - 2.5)
    .attr("font-size", 7.5).style("white-space", "pre");
  hp.append("tspan").text("P");
  hp.append("tspan").attr("dy", -3).attr("font-size", 4.5).text("d");
  hp.append("tspan").attr("dy", 3).text("=  " + periods[i]);

  const hv = gr.append("text").attr("x", 389).attr("y", y0 - 2.5)
    .attr("font-size", 7.5).style("white-space", "pre");
  hv.append("tspan").text("\u0394V=  " + deltaV[i]);
  hv.append("tspan").attr("dy", -3).attr("font-size", 4.5).text("mag");
});

svg.append("text").attr("x", 188).attr("y", 308)
  .attr("text-anchor", "middle").attr("font-size", 6.8).text("time [HJD-2450000]");
svg.append("text").attr("x", 385).attr("y", 308)
  .attr("text-anchor", "middle").attr("font-size", 6.8).text("rotational phase");
</script>
</body>
</html>
